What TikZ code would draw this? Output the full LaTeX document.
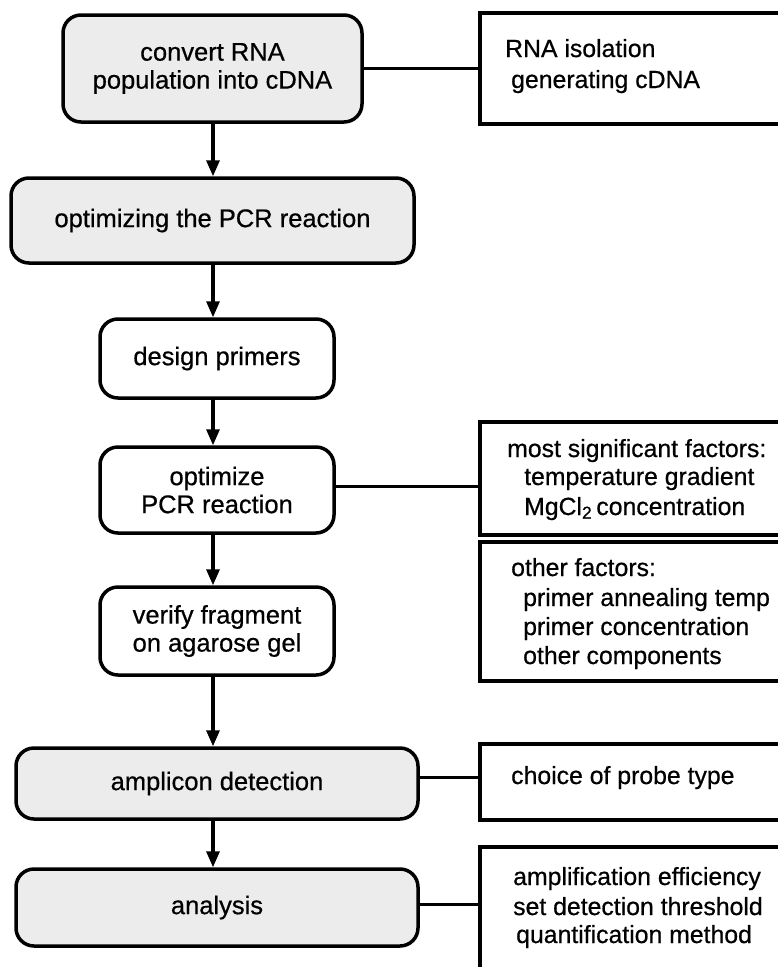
\documentclass[tikz,border=0pt]{standalone}
\usepackage{fontspec}
\setmainfont{Liberation Sans}[FakeBold=0.6]
\usetikzlibrary{arrows.meta}
\definecolor{boxgray}{RGB}{236,236,236}
\begin{document}
\begin{tikzpicture}[x=1pt,y=-1pt,
  stepbox/.style={draw=black, line width=3.5pt, rounded corners=18pt, align=center, inner sep=0pt, font=\fontsize{25.5}{28}\selectfont},
  graybox/.style={stepbox, fill=boxgray},
  whitebox/.style={stepbox, fill=white},
  infobox/.style={draw=black, line width=3.2pt, inner sep=0pt, fill=white, minimum width=320pt},
  infotext/.style={anchor=base west, inner sep=0pt, font=\fontsize{24.8}{30}\selectfont},
  flow/.style={line width=3.2pt, -{Triangle[length=16pt,width=13pt]}},
  link/.style={line width=3pt}]
\useasboundingbox (0,0) rectangle (778,967);
\clip (0,0) rectangle (778,967);

% left flow boxes
\node[graybox, minimum width=299pt, minimum height=107pt] (b1) at (212.5,68.5) {convert RNA\\population into cDNA};
\node[graybox, minimum width=403pt, minimum height=85pt] (b2) at (212.5,220.5) {optimizing the PCR reaction};
\node[whitebox, minimum width=234pt, minimum height=79pt] (b3) at (217,358.5) {design primers};
\node[whitebox, minimum width=234pt, minimum height=86pt] (b4) at (217,490) {optimize\\PCR reaction};
\node[whitebox, minimum width=234pt, minimum height=88pt] (b5) at (217,631) {verify fragment\\on agarose gel};
\node[graybox, minimum width=402pt, minimum height=71pt] (b6) at (217,783.5) {amplicon detection};
\node[graybox, minimum width=402pt, minimum height=77pt] (b7) at (217,907.5) {analysis};

% right info boxes
\node[infobox, minimum height=111pt] (r1) at (640,68.5) {};
\node[infobox, minimum height=113pt] (r2) at (640,478.5) {};
\node[infobox, minimum height=139pt] (r3) at (640,611.5) {};
\node[infobox, minimum height=76pt] (r4) at (640,782) {};
\node[infobox, minimum height=143pt] (r5) at (640,918.5) {};

% texts in info boxes
\node[infotext] (t1a) at (505,57) {RNA isolation};
\node[infotext] (t1b) at (511,88) {generating cDNA};
\node[infotext] (t2a) at (507,457) {most significant factors:};
\node[infotext] (t2b) at (524,485) {temperature gradient};
\node[infotext] (t2c) at (524,515) {MgCl\textsubscript{2}\,concentration};
\node[infotext] (t3a) at (511,576) {other factors:};
\node[infotext] (t3b) at (523,606) {primer annealing temp};
\node[infotext] (t3c) at (523,635) {primer concentration};
\node[infotext] (t3d) at (523,664) {other components};
\node[infotext] (t4a) at (511,784) {choice of probe type};
\node[infotext] (t5a) at (513,885) {amplification efficiency};
\node[infotext] (t5b) at (513,915) {set detection threshold};
\node[infotext] (t5c) at (516,943) {quantification method};

% flow arrows
\coordinate (ax) at (213,0);
\draw[flow] (ax |- b1.south) -- (ax |- b2.north);
\draw[flow] (ax |- b2.south) -- (ax |- b3.north);
\draw[flow] (ax |- b3.south) -- (ax |- b4.north);
\draw[flow] (ax |- b4.south) -- (ax |- b5.north);
\draw[flow] (ax |- b5.south) -- (ax |- b6.north);
\draw[flow] (ax |- b6.south) -- (ax |- b7.north);

% links to info boxes
\draw[link] (b1.east) -- (b1.east -| r1.west);
\draw[link] ([yshift=4pt]b4.east) -- ([yshift=4pt]b4.east -| r2.west);
\draw[link] ([yshift=6pt]b6.east) -- ([yshift=6pt]b6.east -| r4.west);
\draw[link] ([yshift=3.5pt]b7.east) -- ([yshift=3.5pt]b7.east -| r5.west);
\end{tikzpicture}
\end{document}
